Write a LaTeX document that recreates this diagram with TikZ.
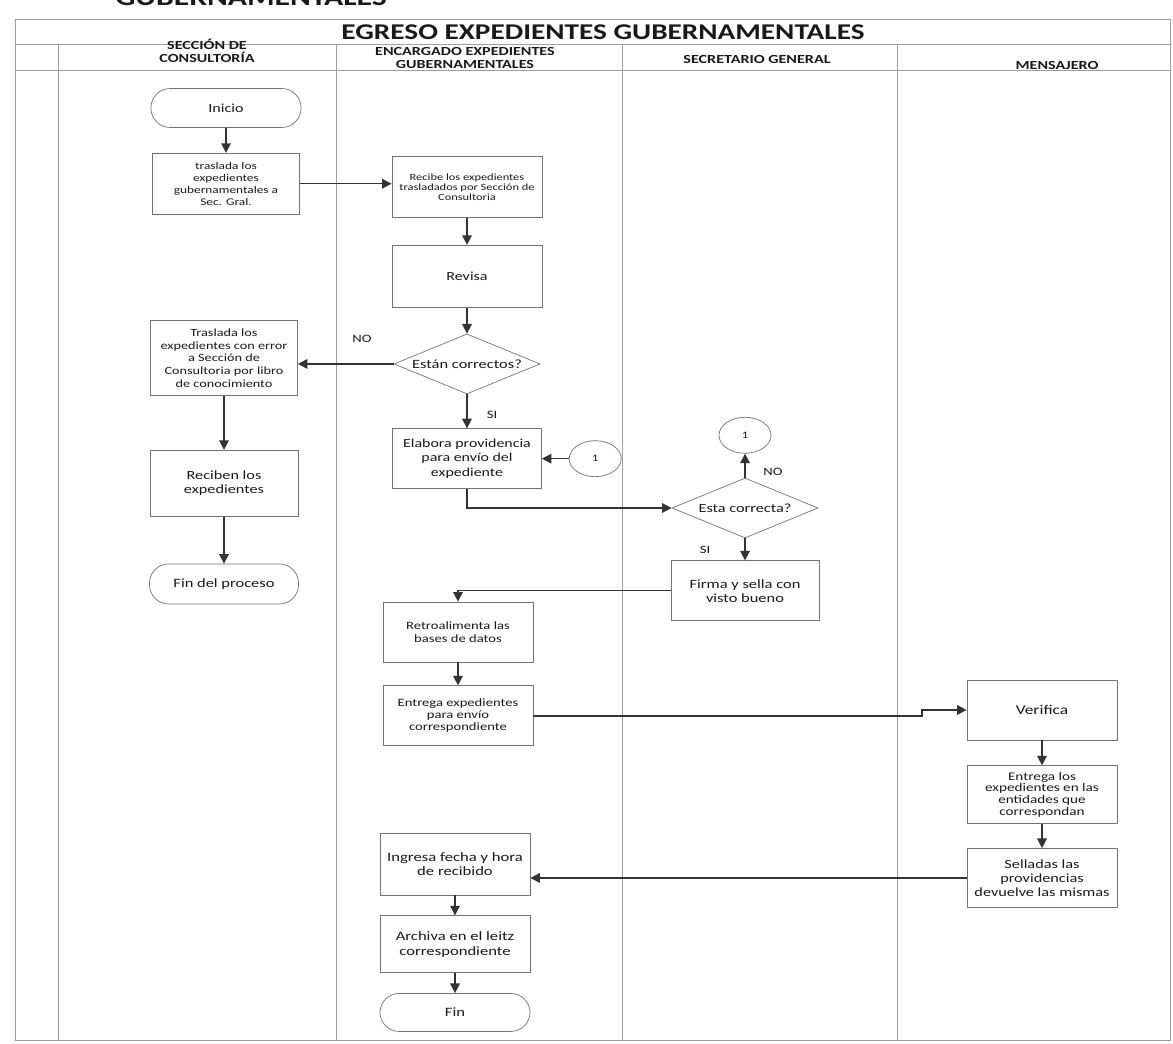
\documentclass[tikz,border=0pt]{standalone}
\usepackage{fontspec}
\setmainfont{Carlito}[FakeStretch=1.3]
\usepackage{tikz}
\usetikzlibrary{positioning, arrows.meta, shapes.geometric}

\definecolor{lanegray}{gray}{0.62}
\definecolor{boxgray}{gray}{0.45}
\definecolor{arrowdark}{gray}{0.2}
\definecolor{txt}{gray}{0.1}

\begin{document}
\begin{tikzpicture}[
    x=0.025cm, y=-0.025cm,
    node distance=0.6cm,
    proc/.style={rectangle, draw=boxgray, line width=0.5pt, minimum width=3.75cm, minimum height=1.5cm, align=center, text=txt, inner sep=2pt},
    term/.style={rectangle, rounded corners=0.48cm, draw=boxgray, line width=0.5pt, minimum width=3.75cm, minimum height=0.975cm, align=center, text=txt, font=\fontsize{8.8}{10}\selectfont},
    dec/.style={diamond, aspect=2.4, draw=boxgray, line width=0.5pt, inner sep=1pt, minimum width=3.65cm, minimum height=1.5cm, align=center, text=txt},
    conn/.style={ellipse, draw=boxgray, line width=0.5pt, minimum width=1.3cm, minimum height=0.9cm, inner sep=0pt, text=txt, font=\fontsize{7}{7}\selectfont},
    arr/.style={-{Triangle[length=2.4mm, width=2.4mm]}, line width=1.1pt, draw=arrowdark},
    lane/.style={draw=lanegray, line width=0.45pt},
    hdr/.style={font=\bfseries\fontsize{8.8}{9.6}\selectfont, align=center, text=txt, inner sep=1pt},
    lbl/.style={font=\fontsize{8}{8}\selectfont, text=txt}
]
\useasboundingbox (0,0) rectangle (1173,1044);
\fill[white] (0,0) rectangle (1173,1044);
\clip (0,0) rectangle (1173,1044);

% page heading, cut by the top edge
\node[font=\bfseries\fontsize{17.3}{18}\selectfont, anchor=base west, text=txt, inner sep=0pt] (head) at (115,6) {GUBERNAMENTALES};

% frame and lanes
\draw[lane] (15,19) -- (1170,19);
\draw[lane] (15,44) -- (1170,44);
\draw[lane] (15,70) -- (1170,70);
\draw[lane] (15,19) -- (15,1040) -- (1170,1040) -- (1170,19);
\foreach \x in {58,336,622,897}
    \draw[lane] (\x,44) -- (\x,1040);

\node[font=\bfseries\fontsize{16}{18}\selectfont, text=txt] (title) at (603,32) {EGRESO EXPEDIENTES GUBERNAMENTALES};
\node[hdr] (h1) at (207,51) {SECCIÓN DE\\CONSULTORÍA};
\node[hdr] (h2) at (465,58) {ENCARGADO EXPEDIENTES\\GUBERNAMENTALES};
\node[hdr] (h3) at (757,59) {SECRETARIO GENERAL};
\node[hdr] (h4) at (1057,65) {MENSAJERO};

% seccion de consultoria
\node[term] (ini) at (226,108) {Inicio};
\node[proc, below=0.625cm of ini, minimum width=3.675cm, minimum height=1.525cm, font=\fontsize{7.3}{8.5}\selectfont] (tras) {traslada los\\expedientes\\gubernamentales a\\Sec. Gral.};
\node[proc, minimum width=3.675cm, minimum height=1.875cm, font=\fontsize{7.8}{9}\selectfont] (tre) at (224,358) {Traslada los\\expedientes con error\\a Sección de\\Consultoria por libro\\de conocimiento};
\node[proc, below=1.35cm of tre, minimum width=3.7cm, minimum height=1.65cm, font=\fontsize{8.9}{10.2}\selectfont] (recn) {Reciben los\\expedientes};
\node[term, below=1.175cm of recn, minimum width=3.725cm, minimum height=1cm, font=\fontsize{9}{10}\selectfont] (finp) {Fin del proceso};

% encargado expedientes gubernamentales
\node[proc, minimum height=1.525cm, font=\fontsize{6.8}{7}\selectfont] (rec) at (467,187) {Recibe los expedientes\\trasladados por Sección de\\Consultoria};
\node[proc, below=0.675cm of rec, minimum height=1.55cm, font=\fontsize{8.8}{10}\selectfont] (rev) {Revisa};
\node[dec, below=0.65cm of rev, font=\fontsize{9}{10}\selectfont] (d1) {Están correctos?};
\node[proc, below=0.85cm of d1, minimum width=3.725cm, font=\fontsize{8.7}{10.4}\selectfont] (elab) {Elabora providencia\\para envío del\\expediente};
\node[conn, right=0.675cm of elab] (c1L) {1};
\node[proc, font=\fontsize{8}{9}\selectfont] (retro) at (458,632) {Retroalimenta las\\bases de datos};
\node[proc, below=0.575cm of retro, font=\fontsize{8}{8.5}\selectfont] (ent) {Entrega expedientes\\para envío\\correspondiente};
\node[proc, minimum height=1.55cm, font=\fontsize{9.1}{9.5}\selectfont] (ing) at (455,864) {Ingresa fecha y hora\\de recibido};
\node[proc, below=0.5cm of ing, minimum height=1.425cm, font=\fontsize{9.1}{10.6}\selectfont] (arc) {Archiva en el leitz\\correspondiente};
\node[term, below=0.5cm of arc, minimum height=0.95cm, font=\fontsize{9.1}{10}\selectfont] (fin) {Fin};

% secretario general
\node[dec, font=\fontsize{8.9}{10}\selectfont] (d2) at (745,508) {Esta correcta?};
\node[conn, above=0.6cm of d2] (c1T) {1};
\node[proc, below=0.55cm of d2, minimum width=3.7cm, font=\fontsize{9}{10}\selectfont] (firma) {Firma y sella con\\visto bueno};

% mensajero
\node[proc, font=\fontsize{9.5}{10}\selectfont] (ver) at (1042,710) {Verifica};
\node[proc, below=0.625cm of ver, minimum height=1.45cm, font=\fontsize{8.3}{8.4}\selectfont] (entl) {Entrega los\\expedientes en las\\entidades que\\correspondan};
\node[proc, below=0.6cm of entl, minimum height=1.475cm, font=\fontsize{8.9}{9.8}\selectfont] (sel) {Selladas las\\providencias\\devuelve las mismas};

% decision labels
\node[lbl] (no1) at (362,339) {NO};
\node[lbl] (si1) at (492,415) {SI};
\node[lbl] (no2) at (773,472) {NO};
\node[lbl] (si2) at (705,550) {SI};

% flow
\draw[arr] (ini) -- (tras);
\draw[arr] (tras.east) -- (tras.east -| rec.west);
\draw[arr] (rec) -- (rev);
\draw[arr] (rev) -- (d1);
\draw[arr] (d1.west) -- (d1.west -| tre.east);
\draw[arr] (tre) -- (recn);
\draw[arr] (recn) -- (finp);
\draw[arr] (d1) -- (elab);
\draw[arr] (c1L) -- (elab);
\draw[arr] (elab.south) |- (d2.west);
\draw[arr] (d2) -- (c1T);
\draw[arr] (d2) -- (firma);
\draw[arr] (firma.west) -| (retro.north);
\draw[arr] (retro) -- (ent);
\coordinate (stp) at (922,0);
\draw[arr] (ent.east) -- (ent.east -| stp) -- (ver.west -| stp) -- (ver.west);
\draw[arr] (ver) -- (entl);
\draw[arr] (entl) -- (sel);
\draw[arr] (sel.west) -- (sel.west -| ing.east);
\draw[arr] (ing) -- (arc);
\draw[arr] (arc) -- (fin);
\end{tikzpicture}
\end{document}
